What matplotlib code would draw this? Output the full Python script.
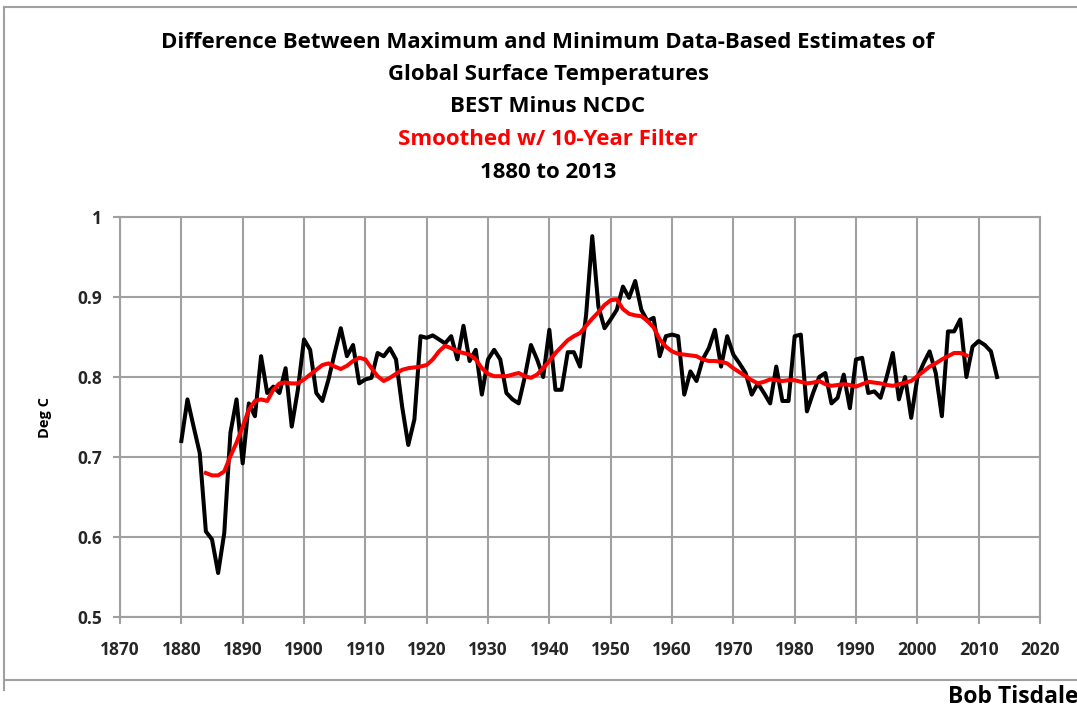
import numpy as np
import matplotlib.pyplot as plt
from matplotlib.lines import Line2D

# annual difference, BEST minus NCDC (deg C)
years = list(range(1880, 2014))
diff = [0.720, 0.772, 0.738, 0.705, 0.607, 0.597, 0.555, 0.605, 0.730, 0.772,
        0.692, 0.767, 0.751, 0.826, 0.780, 0.788, 0.780, 0.811, 0.738, 0.784,
        0.847, 0.834, 0.780, 0.770, 0.797, 0.830, 0.861, 0.826, 0.840, 0.792,
        0.797, 0.799, 0.830, 0.826, 0.836, 0.822, 0.763, 0.715, 0.747, 0.851,
        0.849, 0.852, 0.847, 0.842, 0.851, 0.822, 0.864, 0.820, 0.834, 0.778,
        0.822, 0.834, 0.822, 0.780, 0.772, 0.767, 0.800, 0.840, 0.822, 0.800,
        0.859, 0.784, 0.784, 0.831, 0.831, 0.813, 0.878, 0.976, 0.888, 0.861,
        0.872, 0.884, 0.913, 0.899, 0.920, 0.884, 0.870, 0.874, 0.826, 0.851,
        0.853, 0.851, 0.778, 0.807, 0.795, 0.822, 0.836, 0.859, 0.813, 0.851,
        0.828, 0.817, 0.805, 0.778, 0.792, 0.780, 0.767, 0.813, 0.770, 0.770,
        0.851, 0.853, 0.757, 0.780, 0.800, 0.805, 0.767, 0.774, 0.803, 0.761,
        0.822, 0.824, 0.780, 0.782, 0.774, 0.800, 0.830, 0.772, 0.800, 0.749,
        0.799, 0.817, 0.832, 0.805, 0.751, 0.857, 0.857, 0.872, 0.800, 0.838,
        0.845, 0.840, 0.832, 0.800]

# 10-year filtered curve
smooth_years = list(range(1884, 2009))
smooth = [0.680, 0.677, 0.677, 0.682, 0.701, 0.718, 0.738, 0.759, 0.770, 0.772,
          0.770, 0.784, 0.792, 0.793, 0.792, 0.792, 0.797, 0.803, 0.809, 0.815,
          0.817, 0.813, 0.810, 0.814, 0.820, 0.824, 0.822, 0.811, 0.801, 0.795,
          0.799, 0.804, 0.809, 0.811, 0.812, 0.813, 0.815, 0.822, 0.832, 0.839,
          0.836, 0.832, 0.830, 0.828, 0.822, 0.811, 0.804, 0.801, 0.801, 0.801,
          0.803, 0.805, 0.801, 0.799, 0.803, 0.811, 0.820, 0.830, 0.838, 0.846,
          0.851, 0.855, 0.864, 0.873, 0.881, 0.890, 0.896, 0.897, 0.885, 0.879,
          0.877, 0.876, 0.870, 0.862, 0.847, 0.838, 0.832, 0.829, 0.828, 0.827,
          0.826, 0.822, 0.820, 0.820, 0.819, 0.817, 0.811, 0.806, 0.801, 0.796,
          0.792, 0.794, 0.797, 0.796, 0.795, 0.796, 0.796, 0.794, 0.792, 0.793,
          0.795, 0.791, 0.789, 0.790, 0.791, 0.790, 0.788, 0.791, 0.794, 0.793,
          0.792, 0.790, 0.789, 0.791, 0.793, 0.795, 0.801, 0.807, 0.813, 0.817,
          0.822, 0.826, 0.830, 0.830, 0.827]

title_lines = ["Difference Between Maximum and Minimum Data-Based Estimates of",
               "Global Surface Temperatures",
               "BEST Minus NCDC",
               "Smoothed w/ 10-Year Filter",
               "1880 to 2013"]
title_colors = ["black", "black", "black", "#ff0000", "black"]
x_ticks = list(range(1870, 2021, 10))
y_ticks = [0.5, 0.6, 0.7, 0.8, 0.9, 1.0]
y_tick_labels = ["0.5", "0.6", "0.7", "0.8", "0.9", "1"]

plt.rcParams['font.family'] = ['Open Sans', 'DejaVu Sans']

fig = plt.figure(figsize=(10.77, 7.08), dpi=100)
ax = fig.add_axes([120 / 1077, 1 - 617 / 708, 920 / 1077, 400 / 708])

ax.plot(years, diff, color='black', lw=2.9, solid_joinstyle='round', zorder=3)
ax.plot(smooth_years, smooth, color='#ff0000', lw=2.9, solid_joinstyle='round', zorder=4)

ax.set_xlim(1870, 2020)
ax.set_ylim(0.5, 1.0)
ax.set_xticks(x_ticks)
ax.set_yticks(y_ticks)
ax.set_yticklabels(y_tick_labels)
ax.grid(True, color='#a0a0a0', lw=1.5)
for s in ax.spines.values():
    s.set_color('#a0a0a0')
    s.set_linewidth(1.5)
ax.tick_params(axis='both', color='#a0a0a0', width=1.5, length=5, labelsize=12.5,
               labelcolor='#262626')
ax.tick_params(axis='x', pad=12)
ax.tick_params(axis='y', pad=8)
for lab in ax.get_xticklabels() + ax.get_yticklabels():
    lab.set_fontweight('bold')
ax.set_ylabel("Deg C", fontsize=10.5, fontweight='bold', labelpad=18)

y0 = 42
for i, (txt, col) in enumerate(zip(title_lines, title_colors)):
    fig.text(548 / 1077, 1 - (y0 + i * 32.5) / 708, txt, color=col, fontsize=16,
             fontweight='bold', ha='center', va='center')

fig.text(1079 / 1077, 1 - 697 / 708, "Bob Tisdale", fontsize=16.5, fontweight='bold',
         ha='right', va='center')

# outer chart border
gc = '#a0a0a0'
fig.add_artist(Line2D([4 / 1077, 1], [1 - 7 / 708, 1 - 7 / 708], color=gc, lw=1.5))
fig.add_artist(Line2D([4 / 1077, 4 / 1077], [1 - 7 / 708, 1 - 690 / 708], color=gc, lw=1.5))
fig.add_artist(Line2D([4 / 1077, 1], [1 - 680 / 708, 1 - 680 / 708], color=gc, lw=1.5))

fig.savefig('out.png', dpi=100)
